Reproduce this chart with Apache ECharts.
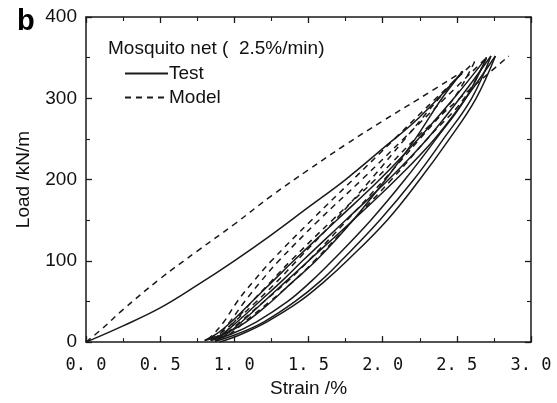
<!DOCTYPE html>
<html><head><meta charset="utf-8">
<script src="https://cdn.jsdelivr.net/npm/echarts@6/dist/echarts.min.js"></script>
<style>html,body{margin:0;padding:0;background:#fff}#c{width:557px;height:403px}</style>
</head><body><div id="c"></div>
<script>
// Strain (%) , Load (kN/m)
const xTicks = [0, 0.5, 1.0, 1.5, 2.0, 2.5, 3.0];
const yTicks = [0, 100, 200, 300, 400];

// Test (solid) branches
const testLoad1 = [[0,0],[0.25,20],[0.5,42],[0.75,70],[1.0,100],[1.25,132],[1.5,166],[1.75,200],[2.0,238],[2.25,277],[2.54,333]];
const testUnl1  = [[2.54,333],[2.40,300],[2.22,250],[2.02,200],[1.80,150],[1.55,100],[1.38,72],[1.25,50],[1.08,25],[0.93,10],[0.80,2]];
const testRel2  = [[0.80,2],[0.88,10],[0.98,25],[1.12,50],[1.26,75],[1.40,100],[1.69,150],[1.98,200],[2.24,250],[2.48,300],[2.70,350]];
const testUnl2  = [[2.70,350],[2.56,300],[2.36,250],[2.15,200],[1.92,150],[1.66,100],[1.52,75],[1.36,50],[1.15,25],[0.98,10],[0.84,2]];
const testRel3  = [[0.84,2],[0.92,10],[1.02,25],[1.17,50],[1.32,75],[1.46,100],[1.75,150],[2.04,200],[2.30,250],[2.52,300],[2.73,352]];
const testUnl3  = [[2.73,352],[2.60,300],[2.41,250],[2.21,200],[1.98,150],[1.72,100],[1.58,75],[1.41,50],[1.20,25],[1.02,10],[0.87,1]];
const testRel4  = [[0.87,1],[0.95,10],[1.05,25],[1.20,50],[1.35,75],[1.50,100],[1.80,150],[2.09,200],[2.35,250],[2.56,300],[2.76,352]];
const testUnl4  = [[2.76,352],[2.63,300],[2.45,250],[2.25,200],[2.03,150],[1.76,100],[1.61,75],[1.44,50],[1.22,25],[1.05,10],[0.90,0]];

// Model (dashed) branches
const modelLoad1 = [[0,0],[0.1,15],[0.25,40],[0.5,78],[0.75,112],[1.0,145],[1.25,180],[1.5,212],[1.75,243],[2.0,272],[2.25,300],[2.54,333]];
const modelUnl1  = [[2.54,333],[2.38,300],[2.15,250],[1.92,200],[1.68,150],[1.42,100],[1.29,75],[1.15,50],[1.00,25],[0.90,10],[0.82,3]];
const modelRel2  = [[0.82,3],[0.86,10],[0.93,25],[1.02,50],[1.13,75],[1.25,100],[1.52,150],[1.80,200],[2.08,250],[2.36,300],[2.62,345]];
const modelUnl2  = [[2.62,345],[2.48,300],[2.25,250],[2.01,200],[1.76,150],[1.50,100],[1.36,75],[1.20,50],[1.04,25],[0.94,10],[0.86,3]];
const modelRel3  = [[0.86,3],[0.90,10],[0.97,25],[1.07,50],[1.18,75],[1.30,100],[1.57,150],[1.86,200],[2.14,250],[2.42,300],[2.70,350]];
const modelUnl3  = [[2.70,350],[2.55,300],[2.30,250],[2.06,200],[1.80,150],[1.54,100],[1.40,75],[1.24,50],[1.07,25],[0.97,10],[0.88,3]];
const modelRel4  = [[0.88,3],[0.93,10],[1.00,25],[1.12,50],[1.25,75],[1.38,100],[1.66,150],[1.95,200],[2.22,250],[2.52,300],[2.71,330],[2.85,352]];

const testBranches = [testLoad1,testUnl1,testRel2,testUnl2,testRel3,testUnl3,testRel4,testUnl4];
const modelBranches = [modelLoad1,modelUnl1,modelRel2,modelUnl2,modelRel3,modelUnl3,modelRel4];

const ink = '#1a1a1a';
function mk(name, data, type){
  return {name, type:'line', data, symbol:'none', smooth:0.4, clip:true,
    lineStyle:{color:ink, width:1.5, type}, itemStyle:{color:ink}, animation:false};
}
const series = [];
testBranches.forEach(d=>series.push(mk('Test', d, 'solid')));
modelBranches.forEach(d=>series.push(mk('Model', d, [6,5])));

const axisCommon = {
  axisLine:{show:true, onZero:false, lineStyle:{color:ink, width:1.5}},
  axisTick:{show:true, inside:true, length:6, lineStyle:{color:ink, width:1.3}},
  minorTick:{show:true, splitNumber:2, length:4, lineStyle:{color:ink, width:1.1}},
  splitLine:{show:false}
};
const txt = {fontFamily:'Liberation Sans', fontSize:19, color:'#111'};

const chart = echarts.init(document.getElementById('c'), null, {renderer:'canvas'});
chart.setOption({
  animation:false,
  backgroundColor:'#fff',
  title:[
    {text:'b', left:12, top:2, textStyle:{fontFamily:'Liberation Sans', fontWeight:'bold', fontSize:29, color:'#000'}},
    {text:'Mosquito net (  2.5%/min)', left:103, top:34, textStyle:Object.assign({fontWeight:'normal'}, txt)}
  ],
  legend:{
    data:['Test','Model'], orient:'vertical', left:119, top:59, itemWidth:43, itemHeight:14, itemGap:5,
    itemStyle:{opacity:0},
    textStyle:Object.assign({padding:[0,0,0,-4]}, txt)
  },
  grid:{left:86, right:26, top:17, bottom:59, containLabel:false},
  xAxis:[
    Object.assign({type:'value', min:0, max:3, interval:0.5, position:'bottom',
      name:'Strain /%', nameLocation:'middle', nameGap:30, nameTextStyle:txt,
      axisLabel:{margin:15, fontFamily:'DejaVu Sans Mono', fontSize:17, color:'#111',
        formatter:v=>{const s=v.toFixed(1); return s.replace('.', '. ');}}}, axisCommon),
    Object.assign({type:'value', min:0, max:3, interval:0.5, position:'top', axisLabel:{show:false}}, axisCommon)
  ],
  yAxis:[
    Object.assign({type:'value', min:0, max:400, interval:100, position:'left',
      name:'Load /kN/m', nameLocation:'middle', nameGap:53, nameRotate:90, nameTextStyle:txt,
      axisLabel:Object.assign({margin:9}, txt)}, axisCommon),
    Object.assign({type:'value', min:0, max:400, interval:100, position:'right', axisLabel:{show:false}}, axisCommon)
  ],
  series
});
</script></body></html>
